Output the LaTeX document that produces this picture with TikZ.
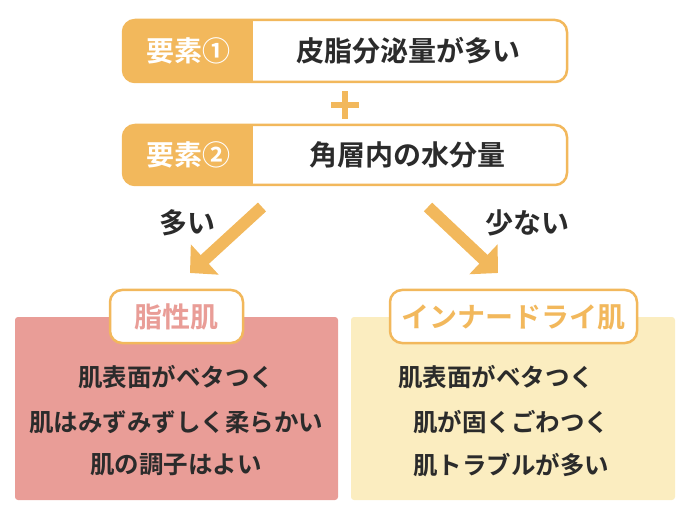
\documentclass[tikz,border=0pt]{standalone}
\usepackage{fontspec}
\setmainfont{Noto Sans CJK JP}[BoldFont={Noto Sans CJK JP Bold}]
\usetikzlibrary{arrows.meta}
\definecolor{orng}{HTML}{F2B85C}
\definecolor{pnk}{HTML}{E99D97}
\definecolor{ylw}{HTML}{FBEDC0}
\definecolor{ink}{HTML}{2B2B2B}
\tikzset{
  frame/.style={draw=orng, line width=2.5pt, rounded corners=12pt, inner sep=0pt},
  big/.style={font=\bfseries\fontsize{28}{30}\selectfont, text=ink, inner sep=0pt},
  body/.style={font=\bfseries\fontsize{24.5}{27}\selectfont, text=ink, inner sep=0pt},
  fatarrow/.style={draw=orng, line width=12pt, -{Triangle[length=20pt,width=40pt]}},
}
\begin{document}
\begin{tikzpicture}[x=1pt,y=-1pt]
\useasboundingbox (0,0) rectangle (690,518);
% top boxes
\foreach \n/\cy/\h in {b1/51/62, b2/155/60}{
  \begin{scope}
    \clip[rounded corners=12pt] (123,\cy-\h/2) rectangle (567,\cy+\h/2);
    \fill[white] (123,\cy-\h/2) rectangle (567,\cy+\h/2);
    \fill[orng] (123,\cy-\h/2) rectangle (253,\cy+\h/2);
  \end{scope}
  \node[frame, minimum width=444pt, minimum height=\h pt] (\n) at (345,\cy) {};
}
\node[big, text=white] (k1) at (188,51) {要素①};
\node[big] (t1) at (408,51) {皮脂分泌量が多い};
\node[big, text=white] (k2) at (188,155) {要素②};
\node[big] (t2) at (407,155) {角層内の水分量};
% plus
\node (plus) at (345,105) {};
\fill[orng] (331,102) rectangle (359,108);
\fill[orng] (342,91) rectangle (348,119);
% arrows
\coordinate (a1s) at (262,207);
\coordinate (a1e) at (190,273);
\coordinate (a2s) at (428,207);
\coordinate (a2e) at (498,273);
\draw[fatarrow] (a1s) -- (a1e);
\draw[fatarrow] (a2s) -- (a2e);
\node[big] (many) at (187,223) {多い};
\node[big] (few) at (527,223) {少ない};
% lower boxes
\node[fill=pnk, rounded corners=3pt, minimum width=323pt, minimum height=183pt, inner sep=0pt] (lb) at (176.5,408.5) {};
\node[fill=ylw, rounded corners=3pt, minimum width=324pt, minimum height=183pt, inner sep=0pt] (rb) at (513,408.5) {};
\node[frame, fill=white, minimum width=133pt, minimum height=53pt] (ll) at (176.5,316.5) {};
\node[big, text=pnk] (llt) at (176.5,317) {脂性肌};
\node[frame, fill=white, minimum width=247pt, minimum height=53pt] (rl) at (513.5,316.5) {};
\node[big, text=orng] (rlt) at (513.5,317) {インナードライ肌};
% left lines
\node[body] (l1) at (176,377) {肌表面がベタつく};
\node[body] (l2) at (176,422) {肌はみずみずしく柔らかい};
\node[body] (l3) at (176,465) {肌の調子はよい};
% right lines
\node[body, anchor=west] (r1) at (398,377) {肌表面がベタつく};
\node[body, anchor=west] (r2) at (413,422) {肌が固くごわつく};
\node[body, anchor=west] (r3) at (413,465) {肌トラブルが多い};
\end{tikzpicture}
\end{document}
